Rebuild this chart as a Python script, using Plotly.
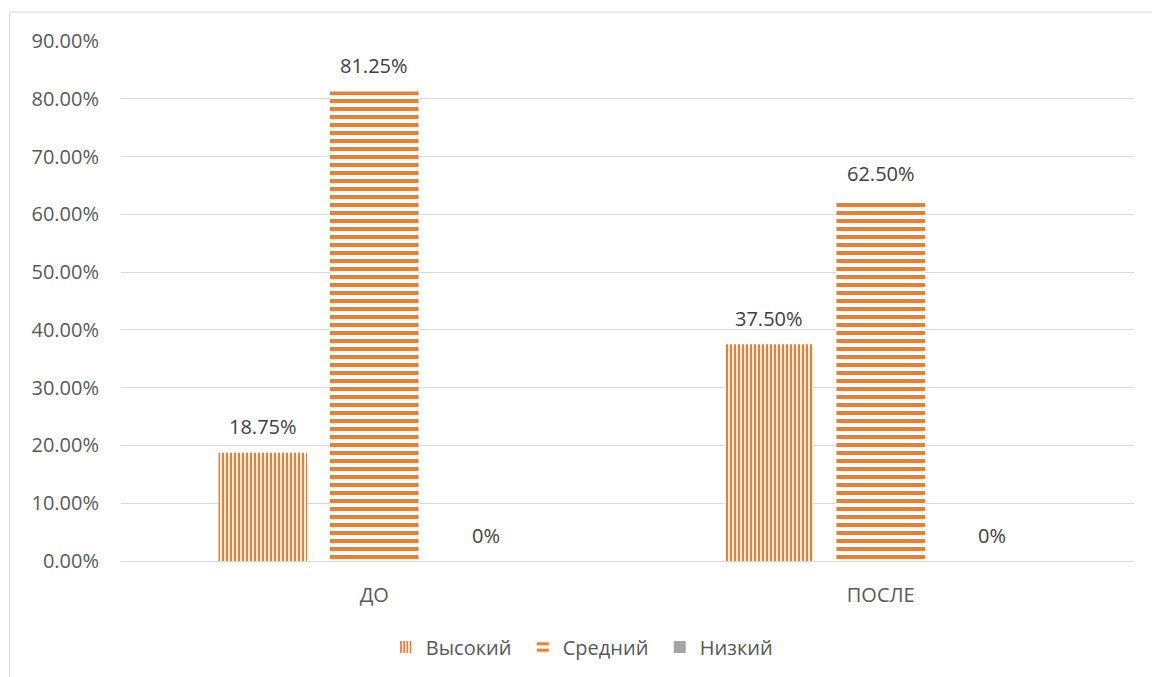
import plotly.graph_objects as go

categories = ["ДО", "ПОСЛЕ"]
series_names = ["Высокий", "Средний", "Низкий"]
vysokiy = [0.1875, 0.375]
sredniy = [0.8125, 0.625]
nizkiy = [0.0, 0.0]

ORANGE = "#ED7D31"
GRAY = "#A5A5A5"
FONT = "Open Sans"
FS = 20

def labels(vals):
    return ["0%" if v == 0 else f"{v*100:.2f}%" for v in vals]

L, R, T, B = 120.5, 18, 41, 115
W, H = 1152, 677
pw = W - L - R
ph = H - T - B
BARGAP = 0.34
GROUPGAP = 0.205

fig = go.Figure()
fig.add_trace(go.Bar(
    name=series_names[0], x=categories, y=vysokiy,
    marker=dict(color=ORANGE, line=dict(width=0),
                pattern=dict(shape="|", fgcolor=ORANGE, bgcolor="white", size=4,
                             solidity=0.55, fgopacity=1, fillmode="replace")),
))
fig.add_trace(go.Bar(
    name=series_names[1], x=categories, y=sredniy,
    marker=dict(color=ORANGE, line=dict(width=0),
                pattern=dict(shape="-", fgcolor=ORANGE, bgcolor="white", size=8,
                             solidity=0.5, fgopacity=1, fillmode="replace")),
))
fig.add_trace(go.Bar(
    name=series_names[2], x=categories, y=nizkiy,
    marker=dict(color=GRAY, line=dict(width=0)),
))

# data labels above bars
cat_w = pw / len(categories)
slot = cat_w * (1 - BARGAP) / 3
for si, vals in enumerate([vysokiy, sredniy, nizkiy]):
    for cat, v, txt in zip(categories, vals, labels(vals)):
        fig.add_annotation(x=cat, y=v, text=txt, showarrow=False,
                           xref="x", yref="y", xanchor="center", yanchor="middle",
                           xshift=(si - 1) * slot, yshift=26,
                           font=dict(family=FONT, size=FS, color="#404040"))

fig.update_layout(
    width=W, height=H,
    margin=dict(l=L, r=R, t=T, b=B, pad=0),
    paper_bgcolor="white", plot_bgcolor="white",
    font=dict(family=FONT, size=FS, color="#595959"),
    barmode="group", bargap=BARGAP, bargroupgap=GROUPGAP,
    showlegend=True,
    legend=dict(orientation="h", x=(591 - L) / pw, xanchor="center",
                y=-(647 - (T + ph)) / ph, yanchor="middle",
                font=dict(size=FS, color="#595959", family=FONT),
                entrywidth=92, entrywidthmode="pixels", traceorder="normal"),
)
fig.update_yaxes(range=[0, 0.9], dtick=0.1, tickformat=".2%",
                 showgrid=True, gridcolor="#D9D9D9", gridwidth=1,
                 zeroline=False, showline=False, ticks="",
                 ticklabelstandoff=21,
                 tickfont=dict(size=FS, color="#595959", family=FONT))
fig.update_xaxes(showline=True, linecolor="#D9D9D9", linewidth=1,
                 ticks="", ticklabelstandoff=16,
                 tickfont=dict(size=FS, color="#595959", family=FONT))

fig.add_shape(type="rect", xref="paper", yref="paper",
              x0=(9 - L) / pw, x1=(W + 10 - L) / pw,
              y0=-(H + 10 - (T + ph)) / ph, y1=((T + ph) - 12) / ph,
              line=dict(color="#D9D9D9", width=1), fillcolor="rgba(0,0,0,0)", layer="below")

fig.write_html("out.html")
